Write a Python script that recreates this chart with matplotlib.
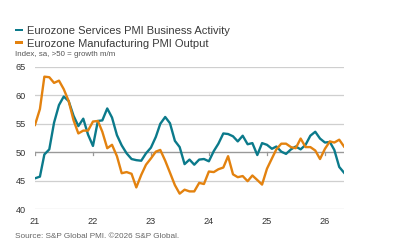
import matplotlib
matplotlib.use("Agg")
import matplotlib.pyplot as plt
import matplotlib.patches as mpatches
import pandas as pd

plt.rcParams['font.family'] = ['Liberation Sans', 'DejaVu Sans']

start_month = "2021-01"
services = [
    45.4, 45.7, 49.6, 50.5, 55.2, 58.3, 59.8, 59.0, 56.4, 54.6, 55.9, 53.1,
    51.1, 55.5, 55.6, 57.7, 56.1, 53.0, 51.2, 49.8, 48.8, 48.6, 48.5, 49.8,
    50.8, 52.7, 55.0, 56.2, 55.1, 52.0, 50.9, 47.9, 48.7, 47.8, 48.7, 48.8,
    48.4, 50.2, 51.5, 53.3, 53.2, 52.8, 51.9, 52.9, 51.4, 51.6, 49.5, 51.6,
    51.3, 50.6, 51.0, 50.1, 49.7, 50.5, 51.0, 50.5, 51.3, 52.9, 53.6, 52.4,
    51.7, 51.8, 50.4, 47.4, 46.4,
]
manufacturing = [
    54.8, 57.6, 63.3, 63.2, 62.2, 62.6, 61.1, 59.0, 55.6, 53.3, 53.8, 53.8,
    55.4, 55.5, 53.6, 50.7, 51.3, 49.3, 46.3, 46.5, 46.2, 43.8, 46.0, 47.8,
    48.9, 50.1, 50.4, 48.5, 46.4, 44.2, 42.7, 43.4, 43.1, 43.1, 44.6, 44.4,
    46.6, 46.5, 47.0, 47.3, 49.3, 46.1, 45.6, 45.8, 44.9, 45.9, 45.1, 44.3,
    47.1, 48.9, 50.5, 51.5, 51.5, 50.9, 50.7, 52.4, 50.9, 50.9, 50.3, 48.8,
    50.6, 51.9, 51.7, 52.2, 51.0,
]
year_labels = ["21", "22", "23", "24", "25", "26"]
y_ticks = [40, 45, 50, 55, 60, 65]
series_names = ["Eurozone Services PMI Business Activity",
                "Eurozone Manufacturing PMI Output"]
subtitle = "Index, sa, >50 = growth m/m"
source = "Source: S&P Global PMI. \u00a92026 S&P Global."

BLUE = "#0b7a8b"
ORANGE = "#e3820f"

dates = pd.date_range(start_month, periods=len(services), freq="MS")
year_starts = pd.to_datetime(["20" + y + "-01-01" for y in year_labels])

W, H = 396, 247
fig = plt.figure(figsize=(W / 100, H / 100), dpi=100)
ax = fig.add_axes([35 / W, 1 - 209 / H, (344 - 35) / W, (209 - 67) / H])

for v in y_ticks:
    ax.axhline(v, color="#999999" if v == 50 else "#cfcfcf",
               lw=1.0 if v == 50 else 0.9, zorder=1)
for d in year_starts:
    ax.plot([d, d], [50, 49.55], color="#999999", lw=0.9, zorder=1)

ax.plot(dates, services, color=BLUE, lw=1.7, zorder=3, solid_joinstyle="round")
ax.plot(dates, manufacturing, color=ORANGE, lw=1.7, zorder=3, solid_joinstyle="round")

ax.set_xlim(dates[0], dates[-1])
ax.set_ylim(40, 65)
ax.set_yticks(y_ticks)
ax.set_yticklabels([str(v) for v in y_ticks])
ax.set_xticks(year_starts)
ax.set_xticklabels(year_labels)
ax.tick_params(axis="both", length=0, labelsize=6.6, colors="#333333")
ax.tick_params(axis="y", pad=6.5)
ax.tick_params(axis="x", pad=5.5)
for s in ax.spines.values():
    s.set_visible(False)
ax.patch.set_visible(False)

# legend
for i, (name, col) in enumerate(zip(series_names, [BLUE, ORANGE])):
    yc = 30 + i * 12.2
    fig.patches.append(mpatches.Rectangle((15 / W, 1 - (yc + 1.4) / H), 7.7 / W, 2.8 / H,
                                          transform=fig.transFigure, color=col, lw=0))
    fig.text(27 / W, 1 - (yc + 1.5) / H, name, fontsize=8, color="#3a3a3a",
             ha="left", va="center")
fig.text(15 / W, 1 - 54.3 / H, subtitle, fontsize=5.7, color="#555555", ha="left", va="center")
fig.text(15 / W, 1 - 236.7 / H, source, fontsize=5.9, color="#666666", ha="left", va="center")

fig.savefig("out.png", dpi=100)
